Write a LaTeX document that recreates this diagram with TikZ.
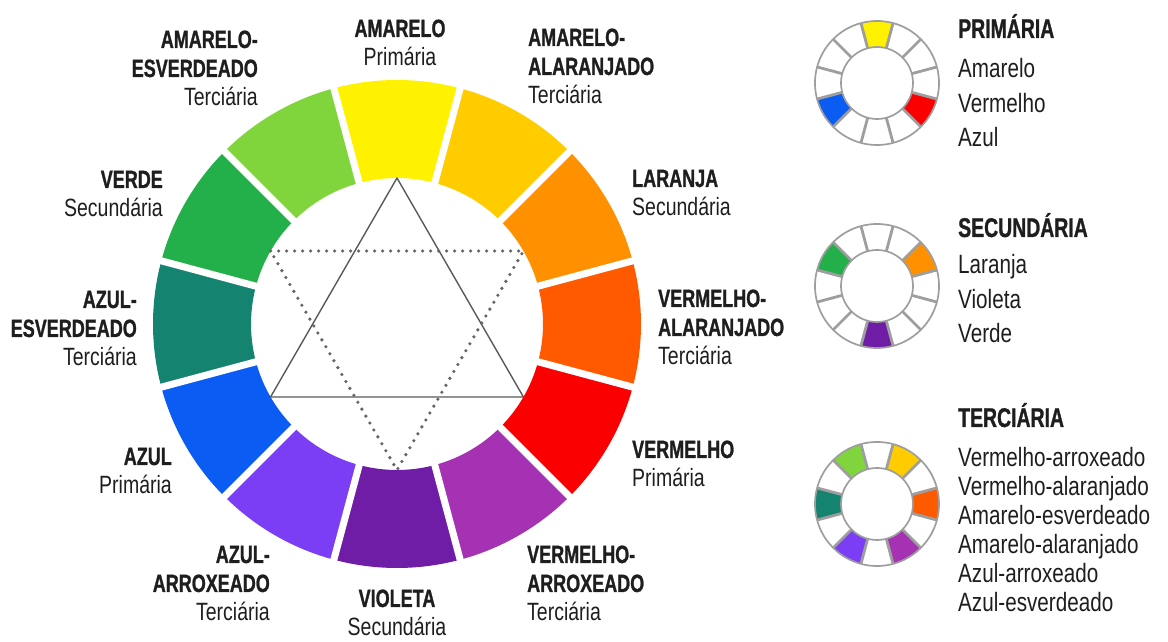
\documentclass[tikz,border=0pt]{standalone}
\usepackage{fontspec}
\setmainfont{Liberation Sans}[FakeStretch=0.78]
\newfontfamily\capsfont{Liberation Sans}[FakeStretch=0.72, BoldFeatures={FakeBold=1}]
\newcommand{\capsline}[1]{{\capsfont\bfseries #1}}
\newcommand{\stack}[2]{\begin{tabular}[t]{@{}#1@{}}#2\end{tabular}}

\definecolor{amarelo}{HTML}{FFF200}
\definecolor{amalaranjado}{HTML}{FFCC00}
\definecolor{laranja}{HTML}{FF9100}
\definecolor{vmalaranjado}{HTML}{FF5A00}
\definecolor{vermelho}{HTML}{FA0000}
\definecolor{vmarroxeado}{HTML}{A532B3}
\definecolor{violeta}{HTML}{6F1DA6}
\definecolor{azarroxeado}{HTML}{7B3EF4}
\definecolor{azul}{HTML}{0B5CF2}
\definecolor{azesverdeado}{HTML}{14836F}
\definecolor{verde}{HTML}{23B04B}
\definecolor{amesverdeado}{HTML}{80D53C}
\definecolor{inkgray}{HTML}{1E1E1E}

\begin{document}
\begin{tikzpicture}[
        x=1pt, y=1pt,
        gapline/.style={white, line width=7pt},
        tri/.style={draw=black!65, line width=1.4pt, line join=round},
        dottri/.style={draw=black!60, line width=3.6pt, line cap=round, dash pattern=on 0pt off 8pt},
        minisep/.style={draw=black!38, line width=2.8pt},
        miniring/.style={draw=black!38, line width=1.7pt},
        lbl/.style={inner sep=0pt, text=inkgray, font=\fontsize{25}{29}\selectfont},
        legtitle/.style={inner sep=0pt, anchor=base west, text=inkgray, font=\capsfont\bfseries\fontsize{27}{28}\selectfont},
        leglist/.style={inner sep=0pt, anchor=base west, text=inkgray, font=\fontsize{26.5}{#1}\selectfont},
    ]

        \useasboundingbox (0,0) rectangle (1168,642);

        % main wheel
        \begin{scope}[shift={(397,318)}]
            \foreach \a/\col in {90/amarelo, 60/amalaranjado, 30/laranja, 0/vmalaranjado,
                    -30/vermelho, -60/vmarroxeado, -90/violeta, -120/azarroxeado,
                    -150/azul, 180/azesverdeado, 150/verde, 120/amesverdeado} {
                \fill[\col] (\a-15:146) arc[start angle=\a-15, end angle=\a+15, radius=146]
                    -- (\a+15:244) arc[start angle=\a+15, end angle=\a-15, radius=244] -- cycle;
            }
            \foreach \a in {0,30,...,330} {
                \draw[gapline] (\a+15:138) -- (\a+15:252);
            }

            \coordinate (p1) at (90:146);
            \coordinate (p2) at (-30:146);
            \coordinate (p3) at (210:146);
            \coordinate (s1) at (150:146);
            \coordinate (s2) at (30:146);
            \coordinate (s3) at (270:146);

            \draw[tri] (p1) -- (p2) -- (p3) -- cycle;
            \draw[dottri] (s1) -- (s2) -- (s3) -- cycle;
        \end{scope}

        % labels round the wheel
        \node[lbl, anchor=base] (l_am) at (400,605) {\stack{c}{\capsline{AMARELO}\\Primária}};
        \node[lbl, anchor=base west] (l_amal) at (528,596) {\stack{l}{\capsline{AMARELO-}\\\capsline{ALARANJADO}\\Terciária}};
        \node[lbl, anchor=base west] (l_la) at (632,455) {\stack{l}{\capsline{LARANJA}\\Secundária}};
        \node[lbl, anchor=base west] (l_vmal) at (658,335) {\stack{l}{\capsline{VERMELHO-}\\\capsline{ALARANJADO}\\Terciária}};
        \node[lbl, anchor=base west] (l_vm) at (632,184) {\stack{l}{\capsline{VERMELHO}\\Primária}};
        \node[lbl, anchor=base west] (l_vmar) at (527,79) {\stack{l}{\capsline{VERMELHO-}\\\capsline{ARROXEADO}\\Terciária}};
        \node[lbl, anchor=base] (l_vi) at (397,35) {\stack{c}{\capsline{VIOLETA}\\Secundária}};
        \node[lbl, anchor=base east] (l_azar) at (270,79) {\stack{r}{\capsline{AZUL-}\\\capsline{ARROXEADO}\\Terciária}};
        \node[lbl, anchor=base east] (l_az) at (172,177) {\stack{r}{\capsline{AZUL}\\Primária}};
        \node[lbl, anchor=base east] (l_azes) at (137,334) {\stack{r}{\capsline{AZUL-}\\\capsline{ESVERDEADO}\\Terciária}};
        \node[lbl, anchor=base east] (l_ve) at (163,454) {\stack{r}{\capsline{VERDE}\\Secundária}};
        \node[lbl, anchor=base east] (l_ames) at (258,594) {\stack{r}{\capsline{AMARELO-}\\\capsline{ESVERDEADO}\\Terciária}};

        % small wheels
        \foreach \cy/\cells in {559/{90/amarelo, -30/vermelho, 210/azul},
                356/{30/laranja, 270/violeta, 150/verde},
                138/{120/amesverdeado, 60/amalaranjado, 0/vmalaranjado, -60/vmarroxeado, 240/azarroxeado, 180/azesverdeado}} {
            \begin{scope}[shift={(877,\cy)}]
                \foreach \a/\col in \cells {
                    \fill[\col] (\a-15:36) arc[start angle=\a-15, end angle=\a+15, radius=36]
                        -- (\a+15:62) arc[start angle=\a+15, end angle=\a-15, radius=62] -- cycle;
                }
                \foreach \a in {0,30,...,330} {
                    \draw[minisep] (\a+15:36) -- (\a+15:62);
                }
                \draw[miniring] (0,0) circle[radius=62] (0,0) circle[radius=36];
            \end{scope}
        }

        % legend texts
        \node[legtitle] (t_prim) at (958,604) {PRIMÁRIA};
        \node[leglist=34.5] (k_prim) at (958,564) {\stack{l}{Amarelo\\Vermelho\\Azul}};

        \node[legtitle] (t_sec) at (958,405) {SECUNDÁRIA};
        \node[leglist=34.5] (k_sec) at (958,368) {\stack{l}{Laranja\\Violeta\\Verde}};

        \node[legtitle] (t_ter) at (958,215) {TERCIÁRIA};
        \node[leglist=29] (k_ter) at (958,175) {\stack{l}{Vermelho-arroxeado\\Vermelho-alaranjado\\Amarelo-esverdeado\\Amarelo-alaranjado\\Azul-arroxeado\\Azul-esverdeado}};
    \end{tikzpicture}
\end{document}
